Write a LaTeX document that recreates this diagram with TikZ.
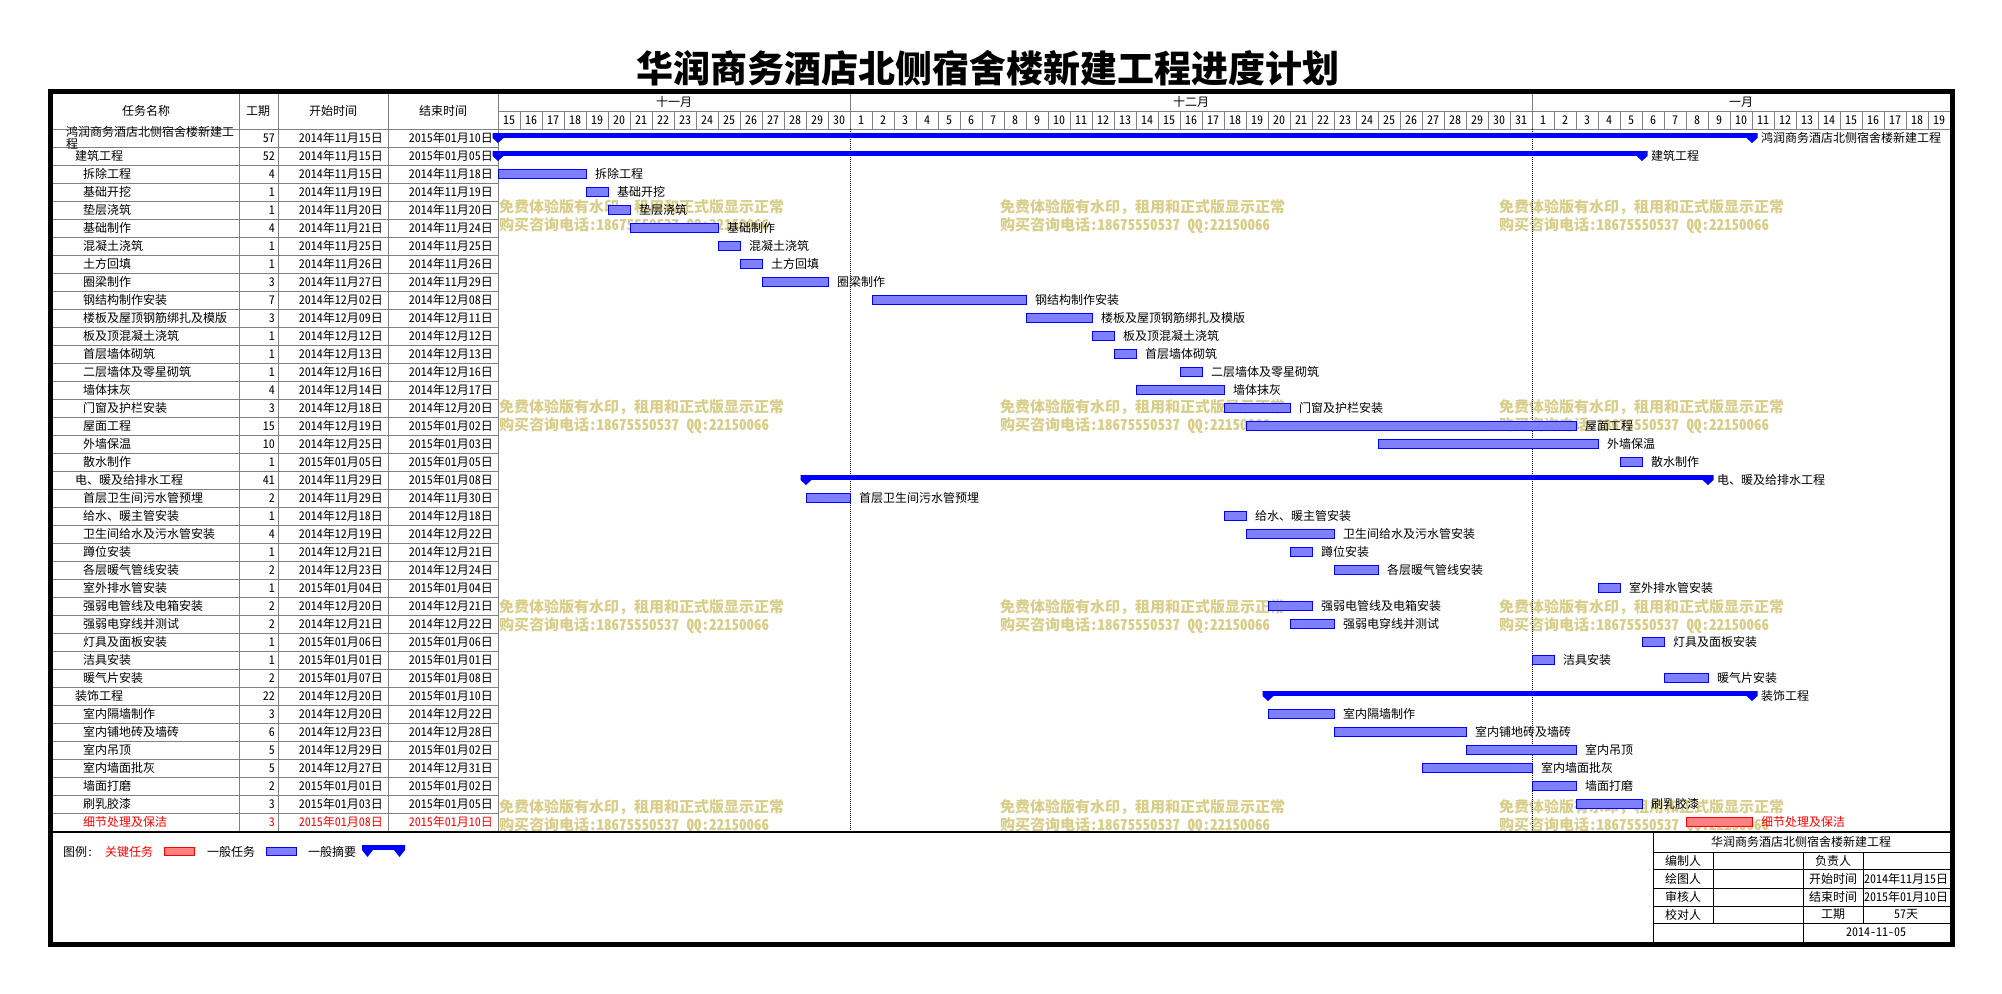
\documentclass[tikz,border=0pt]{standalone}
\usepackage{fontspec}
\setmainfont{Noto Sans CJK SC}[RawFeature=+hwid]
\usetikzlibrary{calc}
\definecolor{gridgray}{RGB}{128,128,128}
\definecolor{taskfill}{RGB}{128,128,255}
\definecolor{critfill}{RGB}{255,128,128}
\definecolor{wmark}{RGB}{216,206,138}
\tikzset{
	celltext/.style={inner sep=0pt, font=\fontsize{12}{12}\selectfont},
	gridline/.style={draw=gridgray, line width=1pt},
	taskbar/.style={draw=blue, fill=taskfill, line width=1pt},
	critbar/.style={draw=red, fill=critfill, line width=1pt},
	barlabel/.style={celltext, anchor=west},
	wmtext/.style={inner sep=0pt, anchor=west, text=wmark, align=left, font=\fontsize{15}{18}\selectfont\bfseries},
}
\def\sumbar(#1:#2:#3){\fill[blue] ({498+22*#2},{133+18*#1}) rectangle ({498+22*#3},{138+18*#1});
	\fill[blue] ({492.5+22*#2},{133+18*#1}) -- ++(11,0) -- ++(0,5) -- ++(-5.5,5) -- ++(-5.5,-5) -- cycle;
	\fill[blue] ({492.5+22*#3},{133+18*#1}) -- ++(11,0) -- ++(0,5) -- ++(-5.5,5) -- ++(-5.5,-5) -- cycle;}
\def\fwcomma{{\addfontfeature{RawFeature=-hwid}，}}

\begin{document}
\begin{tikzpicture}[x=1pt, y=-1pt]
			%%%%% START %%%%%
			\useasboundingbox (0,0) rectangle (2002,993);
			
			\node[font=\fontsize{37}{37}\selectfont\bfseries] (title) at (988,68) {华润商务酒店北侧宿舍楼新建工程进度计划};
			
			% table grid
			\foreach \k in {1,...,38} \draw[gridline] (53,{129+18*\k}) -- (498,{129+18*\k});
			\draw[gridline] (53,129) -- (1950,129);
			\draw[gridline] (498,111) -- (1950,111);
			\foreach \cx in {239,278,388,498} \draw[gridline] (\cx,93) -- (\cx,832);
			\foreach \k in {1,...,65} \draw[gridline] ({498+22*\k},111) -- ({498+22*\k},129);
			\draw[gridline] (850,93) -- (850,111);
			\draw[gridline] (1532,93) -- (1532,111);
			
			\node[celltext] (h1) at (146,111) {任务名称};
			\node[celltext] (h2) at (258,111) {工期};
			\node[celltext] (h3) at (333,111) {开始时间};
			\node[celltext] (h4) at (443,111) {结束时间};
			\node[celltext] (m1) at (674,102) {十一月};
			\node[celltext] (m2) at (1191,102) {十二月};
			\node[celltext] (m3) at (1741,102) {一月};
			\foreach \d [count=\k from 0] in {15,...,30} \node[celltext] (dn\k) at ({509+22*\k},120) {\d};
			\foreach \d in {1,...,31} \node[celltext] (dd\d) at ({509+22*(15+\d)},120) {\d};
			\foreach \d in {1,...,19} \node[celltext] (dj\d) at ({509+22*(46+\d)},120) {\d};
			
			% table rows
			\node[celltext, anchor=west, align=left] (nm0) at (66,138) {鸿润商务酒店北侧宿舍楼新建工\\程};
			\node[celltext, anchor=east] (du0) at (275,138) {57};
			\node[celltext, anchor=east] (sd0) at (383,138) {2014年11月15日};
			\node[celltext, anchor=east] (ed0) at (493,138) {2015年01月10日};
			\foreach \nm/\lx/\du/\sd/\ed/\tc [count=\i] in {
				建筑工程/75/52/2014年11月15日/2015年01月05日/black,
				拆除工程/83/4/2014年11月15日/2014年11月18日/black,
				基础开挖/83/1/2014年11月19日/2014年11月19日/black,
				垫层浇筑/83/1/2014年11月20日/2014年11月20日/black,
				基础制作/83/4/2014年11月21日/2014年11月24日/black,
				混凝土浇筑/83/1/2014年11月25日/2014年11月25日/black,
				土方回填/83/1/2014年11月26日/2014年11月26日/black,
				圈梁制作/83/3/2014年11月27日/2014年11月29日/black,
				钢结构制作安装/83/7/2014年12月02日/2014年12月08日/black,
				楼板及屋顶钢筋绑扎及模版/83/3/2014年12月09日/2014年12月11日/black,
				板及顶混凝土浇筑/83/1/2014年12月12日/2014年12月12日/black,
				首层墙体砌筑/83/1/2014年12月13日/2014年12月13日/black,
				二层墙体及零星砌筑/83/1/2014年12月16日/2014年12月16日/black,
				墙体抹灰/83/4/2014年12月14日/2014年12月17日/black,
				门窗及护栏安装/83/3/2014年12月18日/2014年12月20日/black,
				屋面工程/83/15/2014年12月19日/2015年01月02日/black,
				外墙保温/83/10/2014年12月25日/2015年01月03日/black,
				散水制作/83/1/2015年01月05日/2015年01月05日/black,
				电、暖及给排水工程/75/41/2014年11月29日/2015年01月08日/black,
				首层卫生间污水管预埋/83/2/2014年11月29日/2014年11月30日/black,
				给水、暖主管安装/83/1/2014年12月18日/2014年12月18日/black,
				卫生间给水及污水管安装/83/4/2014年12月19日/2014年12月22日/black,
				蹲位安装/83/1/2014年12月21日/2014年12月21日/black,
				各层暖气管线安装/83/2/2014年12月23日/2014年12月24日/black,
				室外排水管安装/83/1/2015年01月04日/2015年01月04日/black,
				强弱电管线及电箱安装/83/2/2014年12月20日/2014年12月21日/black,
				强弱电穿线并测试/83/2/2014年12月21日/2014年12月22日/black,
				灯具及面板安装/83/1/2015年01月06日/2015年01月06日/black,
				洁具安装/83/1/2015年01月01日/2015年01月01日/black,
				暖气片安装/83/2/2015年01月07日/2015年01月08日/black,
				装饰工程/75/22/2014年12月20日/2015年01月10日/black,
				室内隔墙制作/83/3/2014年12月20日/2014年12月22日/black,
				室内铺地砖及墙砖/83/6/2014年12月23日/2014年12月28日/black,
				室内吊顶/83/5/2014年12月29日/2015年01月02日/black,
				室内墙面批灰/83/5/2014年12月27日/2014年12月31日/black,
				墙面打磨/83/2/2015年01月01日/2015年01月02日/black,
				刷乳胶漆/83/3/2015年01月03日/2015年01月05日/black,
				细节处理及保洁/83/3/2015年01月08日/2015年01月10日/red}{
				\node[celltext, anchor=west, text=\tc] (nm\i) at (\lx,{138+18*\i}) {\nm};
				\node[celltext, anchor=east, text=\tc] (du\i) at (275,{138+18*\i}) {\du};
				\node[celltext, anchor=east, text=\tc] (sd\i) at (383,{138+18*\i}) {\sd};
				\node[celltext, anchor=east, text=\tc] (ed\i) at (493,{138+18*\i}) {\ed};
			}
			
			% watermark
			\foreach \wx in {499,1000,1499} \foreach \wy in {208,408,608,808}
				\node[wmtext] (wm\wx\wy) at (\wx,{\wy+9}) {免费体验版有水印\fwcomma 租用和正式版显示正常\\购买咨询电话:18675550537 QQ:22150066};
			
			\draw[line width=1pt, dash pattern=on 1pt off 1pt] (850,129) -- (850,832);
			\draw[line width=1pt, dash pattern=on 1pt off 1pt] (1532,129) -- (1532,832);
			
			% bars
			\foreach \r/\s/\e/\lb in {2/0/4/拆除工程, 3/4/5/基础开挖, 4/5/6/垫层浇筑, 5/6/10/基础制作, 6/10/11/混凝土浇筑, 7/11/12/土方回填, 8/12/15/圈梁制作, 9/17/24/钢结构制作安装, 10/24/27/楼板及屋顶钢筋绑扎及模版, 11/27/28/板及顶混凝土浇筑, 12/28/29/首层墙体砌筑, 13/31/32/二层墙体及零星砌筑, 14/29/33/墙体抹灰, 15/33/36/门窗及护栏安装, 16/34/49/屋面工程, 17/40/50/外墙保温, 18/51/52/散水制作, 20/14/16/首层卫生间污水管预埋, 21/33/34/给水、暖主管安装, 22/34/38/卫生间给水及污水管安装, 23/36/37/蹲位安装, 24/38/40/各层暖气管线安装, 25/50/51/室外排水管安装, 26/35/37/强弱电管线及电箱安装, 27/36/38/强弱电穿线并测试, 28/52/53/灯具及面板安装, 29/47/48/洁具安装, 30/53/55/暖气片安装, 32/35/38/室内隔墙制作, 33/38/44/室内铺地砖及墙砖, 34/44/49/室内吊顶, 35/42/47/室内墙面批灰, 36/47/49/墙面打磨, 37/49/52/刷乳胶漆}{
				\draw[taskbar] ({498+22*\s},{133+18*\r}) rectangle ({498+22*\e},{142+18*\r});
				\node[barlabel] (lb\r) at ({507+22*\e},{138+18*\r}) {\lb};
			}
			\draw[critbar] ({498+22*54},{133+18*38}) rectangle ({498+22*57},{142+18*38});
			\node[barlabel, text=red] (lb38) at ({507+22*57},{138+18*38}) {细节处理及保洁};
			
			\sumbar(0:0:57)
			\sumbar(1:0:52)
			\sumbar(19:14:55)
			\sumbar(31:35:57)
			\node[barlabel] (lb0) at ({507+22*57},138) {鸿润商务酒店北侧宿舍楼新建工程};
			\node[barlabel] (lb1) at ({507+22*52},156) {建筑工程};
			\node[barlabel] (lb19) at ({507+22*55},{138+18*19}) {电、暖及给排水工程};
			\node[barlabel] (lb31) at ({507+22*57},{138+18*31}) {装饰工程};
			
			\draw[line width=1.5pt] (53,832) -- (1950,832);
			
			% legend
			\node[celltext, anchor=west] (lg0) at (63,852) {图例:};
			\node[celltext, anchor=west, text=red] (lg1) at (105,852) {关键任务};
			\draw[critbar] (164,847) rectangle (194,855);
			\node[celltext, anchor=west] (lg2) at (207,852) {一般任务};
			\draw[taskbar] (266,847) rectangle (296,855);
			\node[celltext, anchor=west] (lg3) at (308,852) {一般摘要};
			\fill[blue] (362,845) rectangle (405,850);
			\fill[blue] (362,845) -- ++(11,0) -- ++(0,5) -- ++(-5.5,7) -- ++(-5.5,-7) -- cycle;
			\fill[blue] (394,845) -- ++(11,0) -- ++(0,5) -- ++(-5.5,7) -- ++(-5.5,-7) -- cycle;
			
			% info table
			\foreach \iy in {852,869,888,906,923} \draw[line width=1pt] (1653,\iy) -- (1950,\iy);
			\draw[line width=1pt] (1653,832) -- (1653,942);
			\draw[line width=1pt] (1803,852) -- (1803,942);
			\draw[line width=1pt] (1713,852) -- (1713,923);
			\draw[line width=1pt] (1863,852) -- (1863,923);
			\node[celltext] (it0) at (1801,842) {华润商务酒店北侧宿舍楼新建工程};
			\node[celltext] (it1) at (1683,860.5) {编制人};
			\node[celltext] (it2) at (1833,860.5) {负责人};
			\node[celltext] (it3) at (1683,878.5) {绘图人};
			\node[celltext] (it4) at (1833,878.5) {开始时间};
			\node[celltext] (it5) at (1906,878.5) {2014年11月15日};
			\node[celltext] (it6) at (1683,897) {审核人};
			\node[celltext] (it7) at (1833,897) {结束时间};
			\node[celltext] (it8) at (1906,897) {2015年01月10日};
			\node[celltext] (it9) at (1683,914.5) {校对人};
			\node[celltext] (it10) at (1833,914.5) {工期};
			\node[celltext] (it11) at (1906,914.5) {57天};
			\node[celltext] (it12) at (1876,932.5) {2014-11-05};
			
			\draw[line width=5pt] (50.5,91.5) rectangle (1952.5,944.5);
			
			%%%%% END %%%%%
		\end{tikzpicture}
\end{document}
